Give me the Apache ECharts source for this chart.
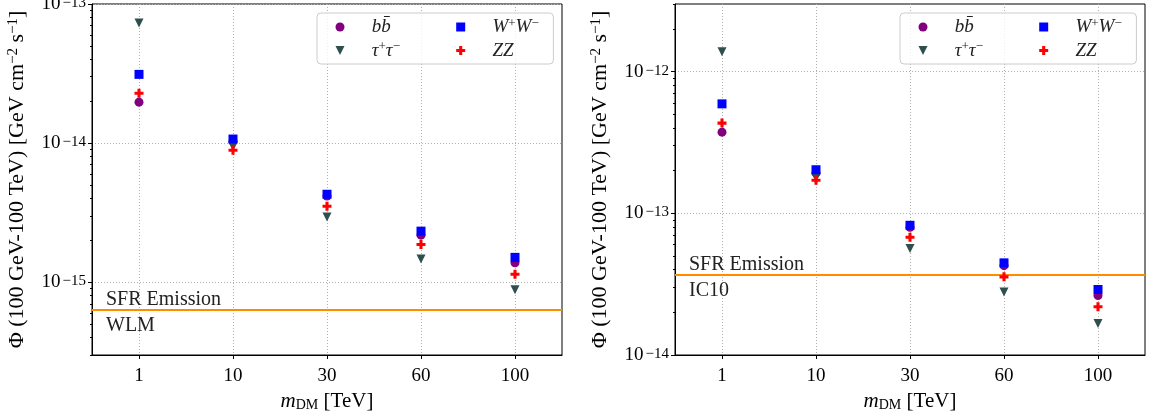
<!DOCTYPE html>
<html>
<head>
<meta charset="utf-8">
<script src="https://cdn.jsdelivr.net/npm/echarts@6/dist/echarts.min.js"></script>
<style>
  html, body { margin: 0; padding: 0; background: #ffffff; }
  #chart { width: 1154px; height: 419px; }
</style>
</head>
<body>
<div id="chart"></div>
<script>
// Dark-matter mass points (TeV), shown as categories
const massLabels = ['1', '10', '30', '60', '100'];

// Integrated flux, 100 GeV - 100 TeV [GeV cm^-2 s^-1] -- WLM
const wlmBB  = [1.97e-14, 1.03e-14, 4.16e-15, 2.18e-15, 1.38e-15];
const wlmTau = [7.3e-14, 9.4e-15, 2.94e-15, 1.47e-15, 8.85e-16];
const wlmWW  = [3.12e-14, 1.07e-14, 4.29e-15, 2.33e-15, 1.51e-15];
const wlmZZ  = [2.28e-14, 8.9e-15, 3.52e-15, 1.87e-15, 1.14e-15];
const wlmSFR = 6.3e-16;

// Integrated flux -- IC10
const ic10BB  = [3.74e-13, 1.92e-13, 7.97e-14, 4.27e-14, 2.63e-14];
const ic10Tau = [1.38e-12, 1.78e-13, 5.64e-14, 2.78e-14, 1.67e-14];
const ic10WW  = [5.92e-13, 2.03e-13, 8.23e-14, 4.47e-14, 2.90e-14];
const ic10ZZ  = [4.33e-13, 1.71e-13, 6.78e-14, 3.56e-14, 2.19e-14];
const ic10SFR = 3.71e-14;

// Log-axis extents and labelled decades
const wlmRange = [3e-16, 1e-13];
const wlmDecades = [1e-15, 1e-14, 1e-13];
const ic10Range = [1e-14, 3e-12];
const ic10Decades = [1e-14, 1e-13, 1e-12];

const FONT = '"Liberation Serif", "DejaVu Serif", serif';
const channels = [
  { key: 'bb',  color: '#800080', symbol: 'circle' },
  { key: 'tau', color: '#2f4f4f', symbol: 'path://M0,0H10L5,10Z' },
  { key: 'WW',  color: '#0000ff', symbol: 'rect' },
  { key: 'ZZ',  color: '#ff0000', symbol: 'path://M3.3,0H6.7V3.3H10V6.7H6.7V10H3.3V6.7H0V3.3H3.3Z' }
];

// minor ticks at 2..9 x 10^n inside a range
function minorTicks(range) {
  const out = [];
  const lo = Math.floor(Math.log10(range[0]));
  const hi = Math.ceil(Math.log10(range[1]));
  for (let e = lo; e <= hi; e++) {
    for (let m = 2; m <= 9; m++) {
      const v = m * Math.pow(10, e);
      if (v >= range[0] * 0.999 && v <= range[1] * 1.001) out.push(v);
    }
  }
  return out;
}

function decadeLabel(v) {
  const l = Math.log10(v);
  const e = Math.round(l);
  if (Math.abs(l - e) > 1e-6) return '';
  return '{b|10}{e|\u2212' + (-e) + '}';
}

const tickRich = {
  b: { fontFamily: FONT, fontSize: 19, lineHeight: 19, color: '#000', padding: [6, 0, 6, 0], verticalAlign: 'middle' },
  e: { fontFamily: FONT, fontSize: 15, lineHeight: 13, color: '#000', padding: [1, 0, 0, 2], verticalAlign: 'top' }
};

const nameRich = {
  r: { fontFamily: FONT, fontSize: 21, lineHeight: 22, color: '#000', verticalAlign: 'middle' },
  i: { fontFamily: FONT, fontSize: 21, lineHeight: 22, color: '#000', fontStyle: 'italic', verticalAlign: 'middle' },
  sub: { fontFamily: FONT, fontSize: 14, lineHeight: 14, color: '#000', verticalAlign: 'bottom' },
  sup: { fontFamily: FONT, fontSize: 14, lineHeight: 12, color: '#000', verticalAlign: 'top' }
};
const yNameRich = Object.assign({}, nameRich, {
  r: Object.assign({}, nameRich.r, { fontSize: 22, lineHeight: 23 }),
  sup: Object.assign({}, nameRich.sup, { fontSize: 15 })
});

// legend labels as (style, text) runs
const legendRuns = {
  bb:  [['i', 'b'], ['i', 'b\u0304']],
  tau: [['i', '\u03c4'], ['s', '+'], ['i', '\u03c4'], ['s', '\u2212']],
  WW:  [['i', 'W'], ['s', '+'], ['i', 'W'], ['s', '\u2212']],
  ZZ:  [['i', 'ZZ']]
};
const legendColumnWidth = { bb: 80.5, tau: 80.5, WW: 55, ZZ: 55 };
const legendBase = {
  i: { fontFamily: FONT, fontSize: 19, lineHeight: 20, color: '#222', fontStyle: 'italic', verticalAlign: 'middle' },
  s: { fontFamily: FONT, fontSize: 13, lineHeight: 9, color: '#222', verticalAlign: 'top' }
};

// pad each legend label to a fixed width so the two columns line up
const measureCtx = document.createElement('canvas').getContext('2d');
function runWidth(st, text) {
  measureCtx.font = (st.fontStyle || 'normal') + ' normal ' + st.fontSize + 'px ' + FONT;
  return measureCtx.measureText(text).width;
}
const legendRich = {
  lead: { width: 22.2, fontFamily: FONT, fontSize: 19, lineHeight: 20 }
};
const legendText = {};
Object.keys(legendRuns).forEach(k => {
  const runs = legendRuns[k];
  const total = runs.reduce((w, [st, t]) => w + runWidth(legendBase[st], t), 0);
  const fill = Math.max(0, legendColumnWidth[k] - total);
  let s = '{lead|\u00a0}';
  runs.forEach(([st, t], j) => {
    const name = 'r' + k + j;
    legendRich[name] = Object.assign({}, legendBase[st], {
      padding: [0, j === runs.length - 1 ? fill : 0, 0, 0]
    });
    s += '{' + name + '|' + t + '}';
  });
  legendText[k] = s;
});

function panel(idx, gridLeft, range, decades, sets, sfr, galaxy, legendLeft) {
  const grid = {
    left: gridLeft, top: 4, width: 470, height: 351,
    show: true, borderColor: '#000', borderWidth: 1, backgroundColor: 'transparent',
    containLabel: false, outerBoundsMode: 'none'
  };
  const xAxis = {
    type: 'category', gridIndex: idx, data: massLabels, boundaryGap: true,
    name: '{i|m}{sub|DM}{r| [TeV]}', nameLocation: 'middle', nameGap: 33,
    nameTextStyle: { rich: nameRich },
    axisLine: { show: true, lineStyle: { color: '#000', width: 1 } },
    axisTick: { show: true, alignWithLabel: true, length: 4, lineStyle: { color: '#000' } },
    axisLabel: { color: '#000', fontFamily: FONT, fontSize: 19, margin: 12 },
    splitLine: { show: true, alignWithLabel: true, lineStyle: { color: '#b0b0b0', type: [1, 2], width: 1 } }
  };
  const yMain = {
    type: 'log', logBase: 10, gridIndex: idx, min: range[0], max: range[1],
    name: '{r|\u03a6 (100 GeV-100 TeV) [GeV cm}{sup|\u22122}{r| s}{sup|\u22121}{r|]}',
    nameLocation: 'middle', nameGap: 63, nameRotate: 90,
    nameTextStyle: { rich: yNameRich },
    axisLine: { show: true, lineStyle: { color: '#000', width: 1 } },
    axisTick: { show: true, length: 4, customValues: decades, lineStyle: { color: '#000' } },
    axisLabel: { show: true, customValues: decades, formatter: decadeLabel, rich: tickRich, margin: 6, hideOverlap: false, showMinLabel: true, showMaxLabel: true },
    splitLine: { show: true, customValues: decades, lineStyle: { color: '#b0b0b0', type: [1, 2], width: 1 } },
    minorTick: { show: false }
  };
  const yMinor = {
    type: 'log', logBase: 10, gridIndex: idx, min: range[0], max: range[1], position: 'left',
    axisLine: { show: false },
    axisTick: { show: true, length: 2, customValues: minorTicks(range), lineStyle: { color: '#000' } },
    axisLabel: { show: false },
    splitLine: { show: false }
  };
  const series = channels.map((c, k) => {
    const s = {
      name: c.key, type: 'scatter', xAxisIndex: idx, yAxisIndex: idx * 2,
      data: sets[k], symbol: c.symbol, symbolSize: 9,
      itemStyle: { color: c.color, opacity: 1 },
      z: 3 + k, emphasis: { disabled: true }
    };
    if (k === 0) {
      s.markLine = {
        silent: true, symbol: ['none', 'none'], precision: 20,
        lineStyle: { color: '#ff8c00', width: 2, type: 'solid' },
        data: [
          { yAxis: sfr, label: { show: true, position: 'insideStartTop', formatter: 'SFR Emission', distance: [14, 0], color: '#222', fontFamily: FONT, fontSize: 20 } },
          { yAxis: sfr, label: { show: true, position: 'insideStartBottom', formatter: galaxy, distance: [14, 6], color: '#222', fontFamily: FONT, fontSize: 20 } }
        ]
      };
    }
    return s;
  });
  const legend = {
    left: legendLeft, top: 13, orient: 'horizontal', width: 220,
    padding: [4, 6, 4, 18.5], itemGap: 4, itemWidth: 9, itemHeight: 9,
    backgroundColor: 'rgba(255,255,255,0.8)', borderColor: '#cccccc', borderWidth: 1, borderRadius: 4,
    selectedMode: false,
    data: ['bb', 'WW', 'tau', 'ZZ'],
    formatter: n => legendText[n],
    textStyle: { rich: legendRich, fontFamily: FONT, fontSize: 19 }
  };
  return { grid, xAxis, yAxes: [yMain, yMinor], series, legend };
}

const left = panel(0, 92, wlmRange, wlmDecades, [wlmBB, wlmTau, wlmWW, wlmZZ], wlmSFR, 'WLM', 317);
const right = panel(1, 675, ic10Range, ic10Decades, [ic10BB, ic10Tau, ic10WW, ic10ZZ], ic10SFR, 'IC10', 900);

const chart = echarts.init(document.getElementById('chart'), null, { renderer: 'canvas' });
chart.setOption({
  animation: false,
  backgroundColor: '#ffffff',
  grid: [left.grid, right.grid],
  xAxis: [left.xAxis, right.xAxis],
  yAxis: [...left.yAxes, ...right.yAxes.map(a => Object.assign({}, a, { gridIndex: 1 }))],
  legend: [left.legend, right.legend],
  series: [...left.series, ...right.series.map(s => Object.assign({}, s, { yAxisIndex: 2 }))]
});
</script>
</body>
</html>
